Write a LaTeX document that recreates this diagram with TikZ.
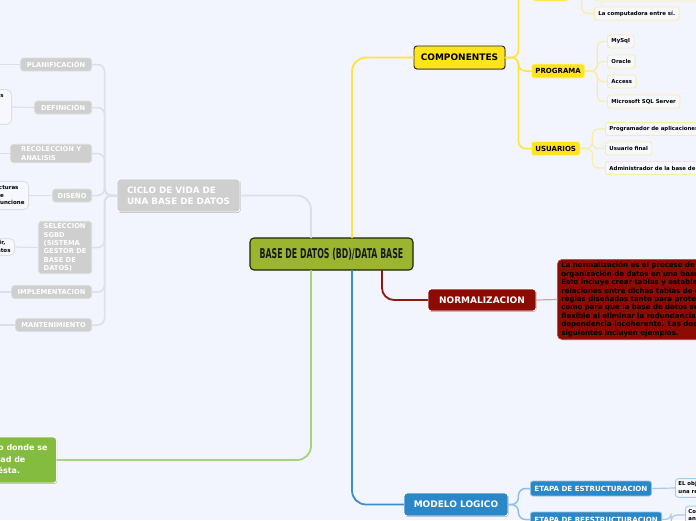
\documentclass[tikz,border=0pt]{standalone}
\usepackage{fontspec}
\setmainfont{DejaVu Sans}
\usepackage{graphicx}
\usepackage{tikz}
\usetikzlibrary{shadows}
\definecolor{mapbg}{HTML}{F2F5FD}
\definecolor{rootfill}{HTML}{9BB52E}
\definecolor{rootdraw}{HTML}{1E2608}
\definecolor{yelfill}{HTML}{FFE41A}
\definecolor{yelline}{HTML}{FFE43A}
\definecolor{yelpale}{HTML}{F8EDA6}
\definecolor{leaffill}{HTML}{F6F8FE}
\definecolor{redfill}{HTML}{8C0B02}
\definecolor{redline}{HTML}{8E1A12}
\definecolor{redpale}{HTML}{D8A4A4}
\definecolor{bluefill}{HTML}{2A87C8}
\definecolor{blueline}{HTML}{3A8ED0}
\definecolor{bluepale}{HTML}{A6CBEC}
\definecolor{grayfill}{HTML}{CFCFCF}
\definecolor{grayline}{HTML}{DCDFE7}
\definecolor{grnfill}{HTML}{83BC3E}
\definecolor{grnline}{HTML}{A8D27C}
\tikzset{
  mapfig/.style={x=1pt,y=-1pt,line cap=round,
    every node/.style={font=\bfseries,align=left}},
  softshadow/.style={drop shadow={shadow xshift=0.6pt,shadow yshift=-0.9pt,
    fill=black,opacity=0.3}},
  rootnode/.style={draw=rootdraw,line width=1.1pt,fill=rootfill,rounded corners=4pt,
    minimum width=163pt,minimum height=32pt,inner sep=0pt,text=black!90},
  mainnode/.style={softshadow,draw=white,line width=0.9pt,rounded corners=3pt,
    text=white,font=\bfseries\fontsize{9}{11}\selectfont,minimum height=22pt,
    inner sep=0pt},
  subnode/.style={fill=yelfill,draw=yelfill!40!white,line width=0.8pt,
    rounded corners=2.5pt,font=\bfseries\fontsize{7}{8}\selectfont,
    minimum height=14pt,inner xsep=4pt,inner ysep=0pt,anchor=west},
  leafnode/.style={draw=yelpale,line width=0.9pt,fill=leaffill,rounded corners=2.5pt,
    font=\bfseries\fontsize{5.4}{6.5}\selectfont,minimum height=13pt,
    inner xsep=4pt,inner ysep=0pt,anchor=west},
  etapanode/.style={fill=bluefill,draw=bluefill!50!white,line width=0.8pt,
    rounded corners=2.5pt,text=white,font=\bfseries\fontsize{7.1}{8}\selectfont,
    minimum height=15pt,inner xsep=4pt,inner ysep=0pt,anchor=west},
  blueleaf/.style={draw=bluepale,line width=0.9pt,fill=leaffill,rounded corners=3pt,
    font=\bfseries\fontsize{5.4}{7.5}\selectfont,inner sep=3pt,anchor=west},
  graykid/.style={fill=grayfill,draw=grayfill!70!white,line width=0.8pt,
    rounded corners=3pt,text=white,font=\bfseries\fontsize{6.7}{8.3}\selectfont,
    minimum height=13pt,inner xsep=5pt,inner ysep=2.5pt,anchor=east},
  grayleaf/.style={draw=grayline,line width=0.9pt,fill=leaffill,rounded corners=5pt,
    font=\bfseries\fontsize{5.5}{7.5}\selectfont,inner xsep=4pt,inner ysep=4pt,
    anchor=east},
  normbox/.style={fill=redfill,draw=redfill!70!white,line width=0.7pt,
    rounded corners=5pt,font=\bfseries\fontsize{7}{8.4}\selectfont,
    inner xsep=4pt,inner ysep=3pt,anchor=west},
  rootcon/.style={line width=1.8pt,rounded corners=14pt},
  subcon/.style={line width=1.5pt,rounded corners=7pt},
  leafcon/.style={line width=1.2pt,rounded corners=6pt},
}

\begin{document}
\begin{tikzpicture}[mapfig]
    \fill[mapbg] (0,0) rectangle (696,520);
    \useasboundingbox (0,0) rectangle (696,520);

    \node[rootnode] (root) at (331.5,254)
      {\scalebox{0.58}[1]{\fontsize{13.5}{13.5}\selectfont BASE DE DATOS (BD)/DATA BASE}};

    % componentes
    \node[mainnode,fill=yelfill,draw=black!85,text=black,minimum width=91pt,
      minimum height=23pt] (comp) at (459.5,57.5) {COMPONENTES};
    \node[subnode,minimum width=36pt,minimum height=20pt] (hw) at (532,-9) {};
    \node[leafnode,minimum width=110pt,minimum height=12pt] (hwleaf) at (594,-5) {};
    \node[leafnode] (lacomp) at (594,13.5) {La computadora entre sí.};
    \node[subnode] (prog) at (531,71) {PROGRAMA};
    \node[leafnode] (mysql) at (607,41.5) {MySql};
    \node[leafnode] (oracle) at (607,61.5) {Oracle};
    \node[leafnode] (access) at (607,81.5) {Access};
    \node[leafnode] (mssql) at (607,101.5) {Microsoft SQL Server};
    \node[subnode] (usr) at (531,148.5) {USUARIOS};
    \node[leafnode] (progapp) at (605,129) {Programador de aplicaciones};
    \node[leafnode] (usrfin) at (605,148.5) {Usuario final};
    \node[leafnode] (admin) at (605,168) {Administrador de la base de datos};

    % normalizacion
    \node[mainnode,fill=redfill,minimum width=108pt] (norm) at (482,300) {NORMALIZACION};
    \node[normbox] (normtxt) at (557,299.5) {La normalización es el proceso de\\
      organización de datos en una base de datos.\\
      Esto incluye crear tablas y establecer\\
      relaciones entre dichas tablas de acuerdo con\\
      reglas diseñadas tanto para proteger los datos\\
      como para que la base de datos sea más\\
      flexible al eliminar la redundancia y la\\
      dependencia incoherente. Las descripciones\\
      siguientes incluyen ejemplos.};

    % modelo logico
    \node[mainnode,fill=bluefill,minimum width=104pt,minimum height=23pt]
      (modlog) at (456,504.5) {MODELO LOGICO};
    \node[etapanode] (etapa1) at (530,488.5) {ETAPA DE ESTRUCTURACION};
    \node[etapanode] (etapa2) at (530,519.5) {ETAPA DE REESTRUCTURACION};
    \node[blueleaf] (obj1) at (675,488) {EL objetivo de esta etapa\\una representación};
    \node[blueleaf] (obj2) at (685,515) {Consiste en\\analizar};

    % ciclo de vida
    \node[mainnode,fill=grayfill,minimum width=123pt,minimum height=33pt,
      font=\bfseries\fontsize{8.8}{11}\selectfont] (ciclo) at (178.5,195.5)
      {CICLO DE VIDA DE\\UNA BASE DE DATOS};
    \node[graykid,minimum width=71pt] (plan) at (92,64.5) {PLANIFICACIÓN};
    \node[graykid,minimum width=57pt] (defi) at (92,107.5) {DEFINICIÓN};
    \node[graykid,minimum width=81pt] (reco) at (92,153.5) {RECOLECCION Y\\ANALISIS};
    \node[graykid,minimum width=39pt] (dise) at (92,195.5) {DISEÑO};
    \node[graykid,minimum width=53pt] (sele) at (92,247.5)
      {SELECCION\\SGBD\\(SISTEMA\\GESTOR DE\\BASE DE\\DATOS)};
    \node[graykid,minimum width=80pt] (impl) at (92,292) {IMPLEMENTACION};
    \node[graykid,minimum width=76pt] (mant) at (92,325) {MANTENIMIENTO};
    \node[grayleaf,inner xsep=8pt] (defk) at (12,107)
      {Se establecen los objetivos\\y el alcance de la base\\de datos y sus requisitos\\de información};
    \node[grayleaf] (disek) at (29,195.5)
      {Se definen las estructuras\\de datos, los tipos de\\datos, relaciones y funcione};
    \node[grayleaf,inner ysep=2pt] (selek) at (15,247)
      {Elegir, evaluar y adquirir,\\el SGBD y migrar los datos};
    \coordinate (planend) at (-10,64.5);
    \coordinate (recoend) at (-10,153.5);
    \coordinate (implend) at (-10,292);
    \coordinate (mantend) at (-10,325);

    % sistema
    \node[mainnode,fill=grnfill,anchor=east,minimum height=46pt,inner xsep=9pt,
      font=\bfseries\fontsize{8}{11.5}\selectfont] (grn) at (57,460)
      {Es un sistema de almacenamiento donde se\\guarda la información de la entidad de\\una forma organizada para usar ésta.};

    % connectors
    \draw[rootcon,grayline] ([xshift=-20.5pt]root.north) |- (ciclo.east);
    \draw[rootcon,yelline] ([xshift=20.5pt]root.north) |- (comp.west);
    \draw[rootcon,grnline] ([xshift=-20.5pt]root.south) |- (grn.east);
    \draw[rootcon,blueline] ([xshift=20.5pt]root.south) |- (modlog.west);
    \draw[rootcon,redline,rounded corners=12pt] ([xshift=50.5pt]root.south) |- (norm.west);

    \foreach \k in {hw,prog,usr}
      \draw[subcon,yelline] (comp.east) -- ++(13,0) |- (\k.west);
    \foreach \k in {hwleaf,lacomp}
      \draw[leafcon,yelpale] (hw.east) -- ++(13,0) |- (\k.west);
    \foreach \k in {mysql,oracle,access,mssql}
      \draw[leafcon,yelpale] (prog.east) -- ++(12,0) |- (\k.west);
    \foreach \k in {progapp,usrfin,admin}
      \draw[leafcon,yelpale] (usr.east) -- ++(12,0) |- (\k.west);

    \draw[leafcon,redpale] (norm.east) -- (normtxt.west);

    \foreach \k in {etapa1,etapa2}
      \draw[subcon,bluepale!80!blueline] (modlog.east) -- ++(10,0) |- (\k.west);
    \draw[leafcon,bluepale] (etapa1.east) -- (obj1.west);
    \draw[leafcon,bluepale] (etapa2.east) -- ++(9,0) |- (obj2.west);

    \foreach \k in {plan,defi,reco,dise,sele,impl,mant}
      \draw[subcon,grayline] (ciclo.west) -- ++(-12,0) |- (\k.east);
    \draw[leafcon,grayline] (plan.west) -- (planend);
    \draw[leafcon,grayline] (defi.west) -- (defk.east);
    \draw[leafcon,grayline] (reco.west) -- (recoend);
    \draw[leafcon,grayline] (dise.west) -- (disek.east);
    \draw[leafcon,grayline] (sele.west) -- (selek.east);
    \draw[leafcon,grayline] (impl.west) -- (implend);
    \draw[leafcon,grayline] (mant.west) -- (mantend);
  \end{tikzpicture}
\end{document}
